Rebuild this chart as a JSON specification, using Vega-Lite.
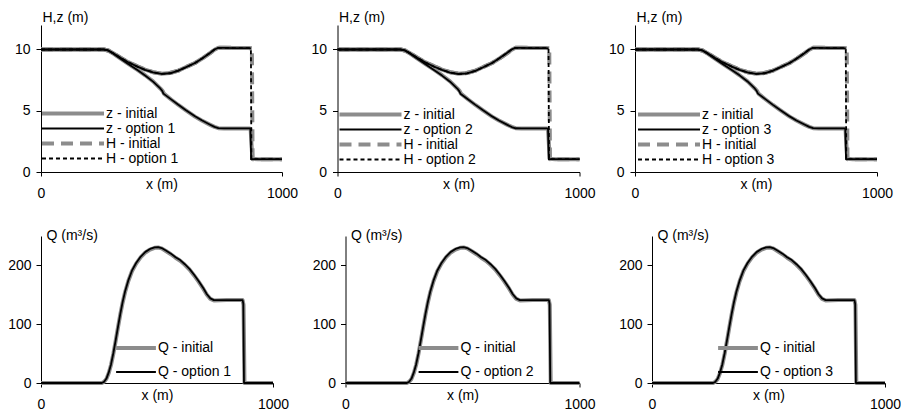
{
"$schema": "https://vega.github.io/schema/vega-lite/v6.json",
"background": "white",
"padding": {"left": 0, "top": 10, "right": 0, "bottom": 0},
"datasets": {
"z_i": [{"x":0,"v":10,"s":"z - initial"},{"x":100,"v":10,"s":"z - initial"},{"x":200,"v":10,"s":"z - initial"},{"x":262,"v":10,"s":"z - initial"},{"x":280,"v":9.9,"s":"z - initial"},{"x":300,"v":9.66,"s":"z - initial"},{"x":330,"v":9.26,"s":"z - initial"},{"x":362,"v":8.83,"s":"z - initial"},{"x":400,"v":8.33,"s":"z - initial"},{"x":432,"v":7.9,"s":"z - initial"},{"x":465,"v":7.4,"s":"z - initial"},{"x":495,"v":6.82,"s":"z - initial"},{"x":505,"v":6.6,"s":"z - initial"},{"x":510,"v":6.4,"s":"z - initial"},{"x":540,"v":5.92,"s":"z - initial"},{"x":570,"v":5.47,"s":"z - initial"},{"x":600,"v":5.05,"s":"z - initial"},{"x":639,"v":4.52,"s":"z - initial"},{"x":667,"v":4.2,"s":"z - initial"},{"x":700,"v":3.87,"s":"z - initial"},{"x":720,"v":3.68,"s":"z - initial"},{"x":736,"v":3.58,"s":"z - initial"},{"x":760,"v":3.55,"s":"z - initial"},{"x":800,"v":3.55,"s":"z - initial"},{"x":866,"v":3.55,"s":"z - initial"},{"x":870,"v":3.45,"s":"z - initial"},{"x":877,"v":1.08,"s":"z - initial"},{"x":900,"v":1.05,"s":"z - initial"},{"x":1000,"v":1.05,"s":"z - initial"}],
"H_i": [{"x":0,"v":10,"s":"H - initial"},{"x":100,"v":10,"s":"H - initial"},{"x":200,"v":10,"s":"H - initial"},{"x":260,"v":10,"s":"H - initial"},{"x":280,"v":9.92,"s":"H - initial"},{"x":300,"v":9.7,"s":"H - initial"},{"x":330,"v":9.33,"s":"H - initial"},{"x":362,"v":8.97,"s":"H - initial"},{"x":400,"v":8.62,"s":"H - initial"},{"x":432,"v":8.36,"s":"H - initial"},{"x":465,"v":8.15,"s":"H - initial"},{"x":500,"v":8.03,"s":"H - initial"},{"x":535,"v":8.08,"s":"H - initial"},{"x":570,"v":8.28,"s":"H - initial"},{"x":600,"v":8.55,"s":"H - initial"},{"x":639,"v":8.9,"s":"H - initial"},{"x":667,"v":9.24,"s":"H - initial"},{"x":700,"v":9.68,"s":"H - initial"},{"x":720,"v":9.98,"s":"H - initial"},{"x":736,"v":10.15,"s":"H - initial"},{"x":760,"v":10.15,"s":"H - initial"},{"x":800,"v":10.13,"s":"H - initial"},{"x":860,"v":10.12,"s":"H - initial"},{"x":875,"v":10.1,"s":"H - initial"},{"x":878,"v":1.05,"s":"H - initial"},{"x":900,"v":1.05,"s":"H - initial"},{"x":1000,"v":1.05,"s":"H - initial"}],
"z_o1": [{"x":0,"v":10,"s":"z - option 1"},{"x":100,"v":10,"s":"z - option 1"},{"x":200,"v":10,"s":"z - option 1"},{"x":262,"v":10,"s":"z - option 1"},{"x":280,"v":9.9,"s":"z - option 1"},{"x":300,"v":9.65,"s":"z - option 1"},{"x":330,"v":9.25,"s":"z - option 1"},{"x":362,"v":8.82,"s":"z - option 1"},{"x":400,"v":8.32,"s":"z - option 1"},{"x":432,"v":7.88,"s":"z - option 1"},{"x":465,"v":7.38,"s":"z - option 1"},{"x":495,"v":6.82,"s":"z - option 1"},{"x":503,"v":6.62,"s":"z - option 1"},{"x":508,"v":6.4,"s":"z - option 1"},{"x":540,"v":5.93,"s":"z - option 1"},{"x":570,"v":5.49,"s":"z - option 1"},{"x":600,"v":5.07,"s":"z - option 1"},{"x":639,"v":4.55,"s":"z - option 1"},{"x":667,"v":4.22,"s":"z - option 1"},{"x":700,"v":3.88,"s":"z - option 1"},{"x":720,"v":3.68,"s":"z - option 1"},{"x":736,"v":3.58,"s":"z - option 1"},{"x":760,"v":3.56,"s":"z - option 1"},{"x":800,"v":3.56,"s":"z - option 1"},{"x":866,"v":3.56,"s":"z - option 1"},{"x":869,"v":3.5,"s":"z - option 1"},{"x":872,"v":1.05,"s":"z - option 1"},{"x":900,"v":1.05,"s":"z - option 1"},{"x":1000,"v":1.05,"s":"z - option 1"}],
"H_o1": [{"x":0,"v":10,"s":"H - option 1"},{"x":100,"v":10,"s":"H - option 1"},{"x":200,"v":10,"s":"H - option 1"},{"x":260,"v":10,"s":"H - option 1"},{"x":280,"v":9.92,"s":"H - option 1"},{"x":300,"v":9.69,"s":"H - option 1"},{"x":330,"v":9.32,"s":"H - option 1"},{"x":362,"v":8.96,"s":"H - option 1"},{"x":400,"v":8.6,"s":"H - option 1"},{"x":432,"v":8.34,"s":"H - option 1"},{"x":465,"v":8.13,"s":"H - option 1"},{"x":500,"v":8.01,"s":"H - option 1"},{"x":535,"v":8.06,"s":"H - option 1"},{"x":570,"v":8.27,"s":"H - option 1"},{"x":600,"v":8.54,"s":"H - option 1"},{"x":639,"v":8.9,"s":"H - option 1"},{"x":667,"v":9.25,"s":"H - option 1"},{"x":700,"v":9.7,"s":"H - option 1"},{"x":720,"v":10.0,"s":"H - option 1"},{"x":736,"v":10.14,"s":"H - option 1"},{"x":760,"v":10.14,"s":"H - option 1"},{"x":800,"v":10.12,"s":"H - option 1"},{"x":860,"v":10.11,"s":"H - option 1"},{"x":871,"v":10.1,"s":"H - option 1"},{"x":873,"v":1.05,"s":"H - option 1"},{"x":900,"v":1.05,"s":"H - option 1"},{"x":1000,"v":1.05,"s":"H - option 1"}],
"z_o2": [{"x":0,"v":10,"s":"z - option 2"},{"x":100,"v":10,"s":"z - option 2"},{"x":200,"v":10,"s":"z - option 2"},{"x":262,"v":10,"s":"z - option 2"},{"x":280,"v":9.9,"s":"z - option 2"},{"x":300,"v":9.65,"s":"z - option 2"},{"x":330,"v":9.24,"s":"z - option 2"},{"x":362,"v":8.81,"s":"z - option 2"},{"x":400,"v":8.31,"s":"z - option 2"},{"x":432,"v":7.87,"s":"z - option 2"},{"x":465,"v":7.37,"s":"z - option 2"},{"x":495,"v":6.81,"s":"z - option 2"},{"x":503,"v":6.6,"s":"z - option 2"},{"x":508,"v":6.39,"s":"z - option 2"},{"x":540,"v":5.92,"s":"z - option 2"},{"x":570,"v":5.48,"s":"z - option 2"},{"x":600,"v":5.06,"s":"z - option 2"},{"x":639,"v":4.54,"s":"z - option 2"},{"x":667,"v":4.21,"s":"z - option 2"},{"x":700,"v":3.87,"s":"z - option 2"},{"x":720,"v":3.67,"s":"z - option 2"},{"x":736,"v":3.57,"s":"z - option 2"},{"x":760,"v":3.56,"s":"z - option 2"},{"x":800,"v":3.56,"s":"z - option 2"},{"x":866,"v":3.56,"s":"z - option 2"},{"x":870,"v":3.5,"s":"z - option 2"},{"x":873,"v":1.05,"s":"z - option 2"},{"x":900,"v":1.05,"s":"z - option 2"},{"x":1000,"v":1.05,"s":"z - option 2"}],
"H_o2": [{"x":0,"v":10,"s":"H - option 2"},{"x":100,"v":10,"s":"H - option 2"},{"x":200,"v":10,"s":"H - option 2"},{"x":260,"v":10,"s":"H - option 2"},{"x":280,"v":9.92,"s":"H - option 2"},{"x":300,"v":9.69,"s":"H - option 2"},{"x":330,"v":9.32,"s":"H - option 2"},{"x":362,"v":8.95,"s":"H - option 2"},{"x":400,"v":8.59,"s":"H - option 2"},{"x":432,"v":8.33,"s":"H - option 2"},{"x":465,"v":8.12,"s":"H - option 2"},{"x":500,"v":8.0,"s":"H - option 2"},{"x":535,"v":8.05,"s":"H - option 2"},{"x":570,"v":8.26,"s":"H - option 2"},{"x":600,"v":8.53,"s":"H - option 2"},{"x":639,"v":8.9,"s":"H - option 2"},{"x":667,"v":9.26,"s":"H - option 2"},{"x":700,"v":9.71,"s":"H - option 2"},{"x":720,"v":10.01,"s":"H - option 2"},{"x":736,"v":10.14,"s":"H - option 2"},{"x":760,"v":10.14,"s":"H - option 2"},{"x":800,"v":10.12,"s":"H - option 2"},{"x":860,"v":10.11,"s":"H - option 2"},{"x":872,"v":10.1,"s":"H - option 2"},{"x":874,"v":1.05,"s":"H - option 2"},{"x":900,"v":1.05,"s":"H - option 2"},{"x":1000,"v":1.05,"s":"H - option 2"}],
"z_o3": [{"x":0,"v":10,"s":"z - option 3"},{"x":100,"v":10,"s":"z - option 3"},{"x":200,"v":10,"s":"z - option 3"},{"x":262,"v":10,"s":"z - option 3"},{"x":280,"v":9.9,"s":"z - option 3"},{"x":300,"v":9.66,"s":"z - option 3"},{"x":330,"v":9.25,"s":"z - option 3"},{"x":362,"v":8.82,"s":"z - option 3"},{"x":400,"v":8.32,"s":"z - option 3"},{"x":432,"v":7.89,"s":"z - option 3"},{"x":465,"v":7.39,"s":"z - option 3"},{"x":495,"v":6.82,"s":"z - option 3"},{"x":503,"v":6.61,"s":"z - option 3"},{"x":508,"v":6.4,"s":"z - option 3"},{"x":540,"v":5.93,"s":"z - option 3"},{"x":570,"v":5.48,"s":"z - option 3"},{"x":600,"v":5.06,"s":"z - option 3"},{"x":639,"v":4.54,"s":"z - option 3"},{"x":667,"v":4.21,"s":"z - option 3"},{"x":700,"v":3.88,"s":"z - option 3"},{"x":720,"v":3.68,"s":"z - option 3"},{"x":736,"v":3.58,"s":"z - option 3"},{"x":760,"v":3.56,"s":"z - option 3"},{"x":800,"v":3.56,"s":"z - option 3"},{"x":866,"v":3.56,"s":"z - option 3"},{"x":869,"v":3.5,"s":"z - option 3"},{"x":872,"v":1.05,"s":"z - option 3"},{"x":900,"v":1.05,"s":"z - option 3"},{"x":1000,"v":1.05,"s":"z - option 3"}],
"H_o3": [{"x":0,"v":10,"s":"H - option 3"},{"x":100,"v":10,"s":"H - option 3"},{"x":200,"v":10,"s":"H - option 3"},{"x":260,"v":10,"s":"H - option 3"},{"x":280,"v":9.92,"s":"H - option 3"},{"x":300,"v":9.69,"s":"H - option 3"},{"x":330,"v":9.32,"s":"H - option 3"},{"x":362,"v":8.96,"s":"H - option 3"},{"x":400,"v":8.6,"s":"H - option 3"},{"x":432,"v":8.34,"s":"H - option 3"},{"x":465,"v":8.13,"s":"H - option 3"},{"x":500,"v":8.01,"s":"H - option 3"},{"x":535,"v":8.06,"s":"H - option 3"},{"x":570,"v":8.27,"s":"H - option 3"},{"x":600,"v":8.54,"s":"H - option 3"},{"x":639,"v":8.9,"s":"H - option 3"},{"x":667,"v":9.25,"s":"H - option 3"},{"x":700,"v":9.7,"s":"H - option 3"},{"x":720,"v":10.0,"s":"H - option 3"},{"x":736,"v":10.14,"s":"H - option 3"},{"x":760,"v":10.14,"s":"H - option 3"},{"x":800,"v":10.12,"s":"H - option 3"},{"x":860,"v":10.11,"s":"H - option 3"},{"x":871,"v":10.1,"s":"H - option 3"},{"x":873,"v":1.05,"s":"H - option 3"},{"x":900,"v":1.05,"s":"H - option 3"},{"x":1000,"v":1.05,"s":"H - option 3"}],
"Q_i": [{"x":0,"v":0,"s":"Q - initial"},{"x":100,"v":0,"s":"Q - initial"},{"x":200,"v":0,"s":"Q - initial"},{"x":262,"v":0,"s":"Q - initial"},{"x":272,"v":2,"s":"Q - initial"},{"x":282,"v":7,"s":"Q - initial"},{"x":292,"v":17,"s":"Q - initial"},{"x":302,"v":31,"s":"Q - initial"},{"x":312,"v":50,"s":"Q - initial"},{"x":322,"v":72,"s":"Q - initial"},{"x":332,"v":95,"s":"Q - initial"},{"x":342,"v":117,"s":"Q - initial"},{"x":352,"v":137,"s":"Q - initial"},{"x":362,"v":154,"s":"Q - initial"},{"x":376,"v":173,"s":"Q - initial"},{"x":392,"v":190,"s":"Q - initial"},{"x":410,"v":203,"s":"Q - initial"},{"x":430,"v":214,"s":"Q - initial"},{"x":450,"v":222,"s":"Q - initial"},{"x":470,"v":227,"s":"Q - initial"},{"x":490,"v":230,"s":"Q - initial"},{"x":505,"v":230.5,"s":"Q - initial"},{"x":520,"v":229,"s":"Q - initial"},{"x":540,"v":224,"s":"Q - initial"},{"x":560,"v":219,"s":"Q - initial"},{"x":580,"v":213,"s":"Q - initial"},{"x":600,"v":208,"s":"Q - initial"},{"x":620,"v":201,"s":"Q - initial"},{"x":640,"v":193,"s":"Q - initial"},{"x":660,"v":183,"s":"Q - initial"},{"x":680,"v":172,"s":"Q - initial"},{"x":700,"v":160,"s":"Q - initial"},{"x":715,"v":150,"s":"Q - initial"},{"x":730,"v":143,"s":"Q - initial"},{"x":745,"v":140.5,"s":"Q - initial"},{"x":800,"v":141,"s":"Q - initial"},{"x":869,"v":141,"s":"Q - initial"},{"x":873,"v":133,"s":"Q - initial"},{"x":877,"v":0,"s":"Q - initial"},{"x":900,"v":0,"s":"Q - initial"},{"x":1000,"v":0,"s":"Q - initial"}],
"Q_o1": [{"x":0,"v":0,"s":"Q - option 1"},{"x":100,"v":0,"s":"Q - option 1"},{"x":200,"v":0,"s":"Q - option 1"},{"x":262,"v":0,"s":"Q - option 1"},{"x":272,"v":2,"s":"Q - option 1"},{"x":282,"v":7.5,"s":"Q - option 1"},{"x":292,"v":18,"s":"Q - option 1"},{"x":302,"v":32,"s":"Q - option 1"},{"x":312,"v":51,"s":"Q - option 1"},{"x":322,"v":73,"s":"Q - option 1"},{"x":332,"v":96,"s":"Q - option 1"},{"x":342,"v":118,"s":"Q - option 1"},{"x":352,"v":138,"s":"Q - option 1"},{"x":362,"v":155,"s":"Q - option 1"},{"x":376,"v":174,"s":"Q - option 1"},{"x":392,"v":191,"s":"Q - option 1"},{"x":410,"v":204,"s":"Q - option 1"},{"x":430,"v":215,"s":"Q - option 1"},{"x":450,"v":223,"s":"Q - option 1"},{"x":470,"v":228,"s":"Q - option 1"},{"x":490,"v":230.5,"s":"Q - option 1"},{"x":505,"v":231,"s":"Q - option 1"},{"x":520,"v":229.5,"s":"Q - option 1"},{"x":540,"v":225,"s":"Q - option 1"},{"x":560,"v":220,"s":"Q - option 1"},{"x":580,"v":214,"s":"Q - option 1"},{"x":600,"v":209,"s":"Q - option 1"},{"x":620,"v":202,"s":"Q - option 1"},{"x":640,"v":194,"s":"Q - option 1"},{"x":660,"v":184,"s":"Q - option 1"},{"x":680,"v":173,"s":"Q - option 1"},{"x":700,"v":161,"s":"Q - option 1"},{"x":715,"v":151,"s":"Q - option 1"},{"x":730,"v":144,"s":"Q - option 1"},{"x":745,"v":141,"s":"Q - option 1"},{"x":800,"v":141,"s":"Q - option 1"},{"x":869,"v":141,"s":"Q - option 1"},{"x":872,"v":135,"s":"Q - option 1"},{"x":875,"v":0,"s":"Q - option 1"},{"x":900,"v":0,"s":"Q - option 1"},{"x":1000,"v":0,"s":"Q - option 1"}],
"Q_o2": [{"x":0,"v":0,"s":"Q - option 2"},{"x":100,"v":0,"s":"Q - option 2"},{"x":200,"v":0,"s":"Q - option 2"},{"x":262,"v":0,"s":"Q - option 2"},{"x":272,"v":2,"s":"Q - option 2"},{"x":282,"v":7.5,"s":"Q - option 2"},{"x":292,"v":18,"s":"Q - option 2"},{"x":302,"v":32,"s":"Q - option 2"},{"x":312,"v":51,"s":"Q - option 2"},{"x":322,"v":73,"s":"Q - option 2"},{"x":332,"v":96,"s":"Q - option 2"},{"x":342,"v":118,"s":"Q - option 2"},{"x":352,"v":138,"s":"Q - option 2"},{"x":362,"v":155,"s":"Q - option 2"},{"x":376,"v":174,"s":"Q - option 2"},{"x":392,"v":191,"s":"Q - option 2"},{"x":410,"v":204,"s":"Q - option 2"},{"x":430,"v":215,"s":"Q - option 2"},{"x":450,"v":223,"s":"Q - option 2"},{"x":470,"v":228,"s":"Q - option 2"},{"x":490,"v":230.5,"s":"Q - option 2"},{"x":505,"v":231,"s":"Q - option 2"},{"x":520,"v":229.5,"s":"Q - option 2"},{"x":540,"v":225,"s":"Q - option 2"},{"x":560,"v":220,"s":"Q - option 2"},{"x":580,"v":214,"s":"Q - option 2"},{"x":600,"v":209,"s":"Q - option 2"},{"x":620,"v":202,"s":"Q - option 2"},{"x":640,"v":194,"s":"Q - option 2"},{"x":660,"v":184,"s":"Q - option 2"},{"x":680,"v":173,"s":"Q - option 2"},{"x":700,"v":161,"s":"Q - option 2"},{"x":715,"v":151,"s":"Q - option 2"},{"x":730,"v":144,"s":"Q - option 2"},{"x":745,"v":141,"s":"Q - option 2"},{"x":800,"v":141,"s":"Q - option 2"},{"x":869,"v":141,"s":"Q - option 2"},{"x":872,"v":135,"s":"Q - option 2"},{"x":875,"v":0,"s":"Q - option 2"},{"x":900,"v":0,"s":"Q - option 2"},{"x":1000,"v":0,"s":"Q - option 2"}],
"Q_o3": [{"x":0,"v":0,"s":"Q - option 3"},{"x":100,"v":0,"s":"Q - option 3"},{"x":200,"v":0,"s":"Q - option 3"},{"x":262,"v":0,"s":"Q - option 3"},{"x":272,"v":2,"s":"Q - option 3"},{"x":282,"v":7.5,"s":"Q - option 3"},{"x":292,"v":18,"s":"Q - option 3"},{"x":302,"v":32,"s":"Q - option 3"},{"x":312,"v":51,"s":"Q - option 3"},{"x":322,"v":73,"s":"Q - option 3"},{"x":332,"v":96,"s":"Q - option 3"},{"x":342,"v":118,"s":"Q - option 3"},{"x":352,"v":138,"s":"Q - option 3"},{"x":362,"v":155,"s":"Q - option 3"},{"x":376,"v":174,"s":"Q - option 3"},{"x":392,"v":191,"s":"Q - option 3"},{"x":410,"v":204,"s":"Q - option 3"},{"x":430,"v":215,"s":"Q - option 3"},{"x":450,"v":223,"s":"Q - option 3"},{"x":470,"v":228,"s":"Q - option 3"},{"x":490,"v":230.5,"s":"Q - option 3"},{"x":505,"v":231,"s":"Q - option 3"},{"x":520,"v":229.5,"s":"Q - option 3"},{"x":540,"v":225,"s":"Q - option 3"},{"x":560,"v":220,"s":"Q - option 3"},{"x":580,"v":214,"s":"Q - option 3"},{"x":600,"v":209,"s":"Q - option 3"},{"x":620,"v":202,"s":"Q - option 3"},{"x":640,"v":194,"s":"Q - option 3"},{"x":660,"v":184,"s":"Q - option 3"},{"x":680,"v":173,"s":"Q - option 3"},{"x":700,"v":161,"s":"Q - option 3"},{"x":715,"v":151,"s":"Q - option 3"},{"x":730,"v":144,"s":"Q - option 3"},{"x":745,"v":141,"s":"Q - option 3"},{"x":800,"v":141,"s":"Q - option 3"},{"x":869,"v":141,"s":"Q - option 3"},{"x":872,"v":135,"s":"Q - option 3"},{"x":875,"v":0,"s":"Q - option 3"},{"x":900,"v":0,"s":"Q - option 3"},{"x":1000,"v":0,"s":"Q - option 3"}]
},
"vconcat": [
{"hconcat": [
{"width": 241, "height": 147,
 "encoding": {
  "x": {"field":"x","type":"quantitative","scale":{"domain":[0,1000],"nice":false},"axis":{"values":[0,1000],"format":"d","tickSize":4,"labelPadding":10,"labelFlush":false,"title":"x  (m)","titleY":12,"titleBaseline":"middle"}},
  "y": {"field":"v","type":"quantitative","scale":{"domain":[0,12],"nice":false},"axis":{"values":[0,5,10],"tickSize":5,"labelPadding":6,"minExtent":27,"maxExtent":27,"titlePadding":0,"title":"H,z  (m)","titleAngle":0,"titleX":1,"titleY":-8,"titleAlign":"left","titleBaseline":"middle"}},
  "color": {"field":"s","type":"nominal","scale":{"domain":["z - initial","z - option 1","H - initial","H - option 1"],"range":["#8c8c8c","#000000","#8c8c8c","#000000"]},"legend":{"orient":"none","legendX":25,"legendY":81.5,"title":null,"symbolType":"M-12,0H12","symbolSize":26.7,"labelOffset":26,"rowPadding":0,"padding":0}},
  "strokeWidth": {"field":"s","type":"nominal","scale":{"type":"ordinal","domain":["z - initial","z - option 1","H - initial","H - option 1"],"range":[4,1.8,4,1.8]},"legend":{"orient":"none","legendX":25,"legendY":81.5,"title":null,"symbolType":"M-12,0H12","symbolSize":26.7,"labelOffset":26,"rowPadding":0,"padding":0}}
 },
 "layer": [
  {"data":{"name":"z_i"},"mark":{"type":"line","strokeJoin":"round"}},
  {"data":{"name":"H_i"},"transform":[{"filter":"datum.x <= 875"}],"mark":{"type":"line","strokeJoin":"round"}},
  {"data":{"name":"H_i"},"mark":{"type":"line","strokeJoin":"round"},"encoding":{"strokeDash":{"field":"s","type":"nominal","scale":{"domain":["z - initial","z - option 1","H - initial","H - option 1"],"range":[[1,0],[1,0],[12,7],[4,3]]},"legend":{"orient":"none","legendX":25,"legendY":81.5,"title":null,"symbolType":"M-12,0H12","symbolSize":26.7,"labelOffset":26,"rowPadding":0,"padding":0}}}},
  {"data":{"name":"z_o1"},"mark":{"type":"line","strokeJoin":"round"}},
  {"data":{"name":"H_o1"},"transform":[{"filter":"datum.x <= 871"}],"mark":{"type":"line","strokeJoin":"round"}},
  {"data":{"name":"H_o1"},"mark":{"type":"line","strokeJoin":"round"},"encoding":{"strokeDash":{"field":"s","type":"nominal","scale":{"domain":["z - initial","z - option 1","H - initial","H - option 1"],"range":[[1,0],[1,0],[12,7],[4,3]]},"legend":{"orient":"none","legendX":25,"legendY":81.5,"title":null,"symbolType":"M-12,0H12","symbolSize":26.7,"labelOffset":26,"rowPadding":0,"padding":0}}}}
 ]
},
{"width": 242, "height": 147,
 "encoding": {
  "x": {"field":"x","type":"quantitative","scale":{"domain":[0,1000],"nice":false},"axis":{"values":[0,1000],"format":"d","tickSize":4,"labelPadding":10,"labelFlush":false,"title":"x  (m)","titleY":12,"titleBaseline":"middle"}},
  "y": {"field":"v","type":"quantitative","scale":{"domain":[0,12],"nice":false},"axis":{"values":[0,5,10],"tickSize":5,"labelPadding":6,"minExtent":27,"maxExtent":27,"titlePadding":0,"title":"H,z  (m)","titleAngle":0,"titleX":1,"titleY":-8,"titleAlign":"left","titleBaseline":"middle"}},
  "color": {"field":"s","type":"nominal","scale":{"domain":["z - initial","z - option 2","H - initial","H - option 2"],"range":["#8c8c8c","#000000","#8c8c8c","#000000"]},"legend":{"orient":"none","legendX":26,"legendY":82.5,"title":null,"symbolType":"M-12,0H12","symbolSize":26.7,"labelOffset":26,"rowPadding":0,"padding":0}},
  "strokeWidth": {"field":"s","type":"nominal","scale":{"type":"ordinal","domain":["z - initial","z - option 2","H - initial","H - option 2"],"range":[4,1.8,4,1.8]},"legend":{"orient":"none","legendX":26,"legendY":82.5,"title":null,"symbolType":"M-12,0H12","symbolSize":26.7,"labelOffset":26,"rowPadding":0,"padding":0}}
 },
 "layer": [
  {"data":{"name":"z_i"},"mark":{"type":"line","strokeJoin":"round"}},
  {"data":{"name":"H_i"},"transform":[{"filter":"datum.x <= 875"}],"mark":{"type":"line","strokeJoin":"round"}},
  {"data":{"name":"H_i"},"mark":{"type":"line","strokeJoin":"round"},"encoding":{"strokeDash":{"field":"s","type":"nominal","scale":{"domain":["z - initial","z - option 2","H - initial","H - option 2"],"range":[[1,0],[1,0],[12,7],[4,3]]},"legend":{"orient":"none","legendX":26,"legendY":82.5,"title":null,"symbolType":"M-12,0H12","symbolSize":26.7,"labelOffset":26,"rowPadding":0,"padding":0}}}},
  {"data":{"name":"z_o2"},"mark":{"type":"line","strokeJoin":"round"}},
  {"data":{"name":"H_o2"},"transform":[{"filter":"datum.x <= 872"}],"mark":{"type":"line","strokeJoin":"round"}},
  {"data":{"name":"H_o2"},"mark":{"type":"line","strokeJoin":"round"},"encoding":{"strokeDash":{"field":"s","type":"nominal","scale":{"domain":["z - initial","z - option 2","H - initial","H - option 2"],"range":[[1,0],[1,0],[12,7],[4,3]]},"legend":{"orient":"none","legendX":26,"legendY":82.5,"title":null,"symbolType":"M-12,0H12","symbolSize":26.7,"labelOffset":26,"rowPadding":0,"padding":0}}}}
 ]
},
{"width": 242, "height": 147,
 "encoding": {
  "x": {"field":"x","type":"quantitative","scale":{"domain":[0,1000],"nice":false},"axis":{"values":[0,1000],"format":"d","tickSize":4,"labelPadding":10,"labelFlush":false,"title":"x  (m)","titleY":12,"titleBaseline":"middle"}},
  "y": {"field":"v","type":"quantitative","scale":{"domain":[0,12],"nice":false},"axis":{"values":[0,5,10],"tickSize":5,"labelPadding":6,"minExtent":27,"maxExtent":27,"titlePadding":0,"title":"H,z  (m)","titleAngle":0,"titleX":1,"titleY":-8,"titleAlign":"left","titleBaseline":"middle"}},
  "color": {"field":"s","type":"nominal","scale":{"domain":["z - initial","z - option 3","H - initial","H - option 3"],"range":["#8c8c8c","#000000","#8c8c8c","#000000"]},"legend":{"orient":"none","legendX":27,"legendY":82.5,"title":null,"symbolType":"M-12,0H12","symbolSize":26.7,"labelOffset":26,"rowPadding":0,"padding":0}},
  "strokeWidth": {"field":"s","type":"nominal","scale":{"type":"ordinal","domain":["z - initial","z - option 3","H - initial","H - option 3"],"range":[4,1.8,4,1.8]},"legend":{"orient":"none","legendX":27,"legendY":82.5,"title":null,"symbolType":"M-12,0H12","symbolSize":26.7,"labelOffset":26,"rowPadding":0,"padding":0}}
 },
 "layer": [
  {"data":{"name":"z_i"},"mark":{"type":"line","strokeJoin":"round"}},
  {"data":{"name":"H_i"},"transform":[{"filter":"datum.x <= 875"}],"mark":{"type":"line","strokeJoin":"round"}},
  {"data":{"name":"H_i"},"mark":{"type":"line","strokeJoin":"round"},"encoding":{"strokeDash":{"field":"s","type":"nominal","scale":{"domain":["z - initial","z - option 3","H - initial","H - option 3"],"range":[[1,0],[1,0],[12,7],[4,3]]},"legend":{"orient":"none","legendX":27,"legendY":82.5,"title":null,"symbolType":"M-12,0H12","symbolSize":26.7,"labelOffset":26,"rowPadding":0,"padding":0}}}},
  {"data":{"name":"z_o3"},"mark":{"type":"line","strokeJoin":"round"}},
  {"data":{"name":"H_o3"},"transform":[{"filter":"datum.x <= 871"}],"mark":{"type":"line","strokeJoin":"round"}},
  {"data":{"name":"H_o3"},"mark":{"type":"line","strokeJoin":"round"},"encoding":{"strokeDash":{"field":"s","type":"nominal","scale":{"domain":["z - initial","z - option 3","H - initial","H - option 3"],"range":[[1,0],[1,0],[12,7],[4,3]]},"legend":{"orient":"none","legendX":27,"legendY":82.5,"title":null,"symbolType":"M-12,0H12","symbolSize":26.7,"labelOffset":26,"rowPadding":0,"padding":0}}}}
 ]
}
], "spacing": 12.5,
"resolve": {"scale":{"color":"independent","strokeWidth":"independent","strokeDash":"independent"},"legend":{"color":"independent","strokeWidth":"independent","strokeDash":"independent"}}},
{"hconcat": [
{"width": 232, "height": 147,
 "encoding": {
  "x": {"field":"x","type":"quantitative","scale":{"domain":[0,1000],"nice":false},"axis":{"values":[0,1000],"format":"d","tickSize":4,"labelPadding":10,"labelFlush":false,"title":"x  (m)","titleY":12,"titleBaseline":"middle"}},
  "y": {"field":"v","type":"quantitative","scale":{"domain":[0,250],"nice":false},"axis":{"values":[0,100,200],"tickSize":5,"labelPadding":5,"minExtent":40.5,"maxExtent":40.5,"titlePadding":0,"title":"Q  (m³/s)","titleAngle":0,"titleX":5,"titleY":-1,"titleAlign":"left","titleBaseline":"middle"}},
  "color": {"field":"s","type":"nominal","scale":{"domain":["Q - initial","Q - option 1"],"range":["#8c8c8c","#000000"]},"legend":{"orient":"none","legendX":88,"legendY":105,"title":null,"symbolType":"M-6,0H6","symbolSize":44,"labelOffset":15,"rowPadding":9,"padding":0}},
  "strokeWidth": {"field":"s","type":"nominal","scale":{"type":"ordinal","domain":["Q - initial","Q - option 1"],"range":[4,1.8]},"legend":{"orient":"none","legendX":88,"legendY":105,"title":null,"symbolType":"M-6,0H6","symbolSize":44,"labelOffset":15,"rowPadding":9,"padding":0}}
 },
 "layer": [
  {"data":{"name":"Q_i"},"mark":{"type":"line","strokeJoin":"round"}},
  {"data":{"name":"Q_o1"},"mark":{"type":"line","strokeJoin":"round"}}
 ]
},
{"width": 234, "height": 147,
 "encoding": {
  "x": {"field":"x","type":"quantitative","scale":{"domain":[0,1000],"nice":false},"axis":{"values":[0,1000],"format":"d","tickSize":4,"labelPadding":10,"labelFlush":false,"title":"x  (m)","titleY":12,"titleBaseline":"middle"}},
  "y": {"field":"v","type":"quantitative","scale":{"domain":[0,250],"nice":false},"axis":{"values":[0,100,200],"tickSize":5,"labelPadding":5,"minExtent":40.5,"maxExtent":40.5,"titlePadding":0,"title":"Q  (m³/s)","titleAngle":0,"titleX":5,"titleY":-1,"titleAlign":"left","titleBaseline":"middle"}},
  "color": {"field":"s","type":"nominal","scale":{"domain":["Q - initial","Q - option 2"],"range":["#8c8c8c","#000000"]},"legend":{"orient":"none","legendX":86,"legendY":105,"title":null,"symbolType":"M-6,0H6","symbolSize":44,"labelOffset":15,"rowPadding":9,"padding":0}},
  "strokeWidth": {"field":"s","type":"nominal","scale":{"type":"ordinal","domain":["Q - initial","Q - option 2"],"range":[4,1.8]},"legend":{"orient":"none","legendX":86,"legendY":105,"title":null,"symbolType":"M-6,0H6","symbolSize":44,"labelOffset":15,"rowPadding":9,"padding":0}}
 },
 "layer": [
  {"data":{"name":"Q_i"},"mark":{"type":"line","strokeJoin":"round"}},
  {"data":{"name":"Q_o2"},"mark":{"type":"line","strokeJoin":"round"}}
 ]
},
{"width": 233, "height": 147,
 "encoding": {
  "x": {"field":"x","type":"quantitative","scale":{"domain":[0,1000],"nice":false},"axis":{"values":[0,1000],"format":"d","tickSize":4,"labelPadding":10,"labelFlush":false,"title":"x  (m)","titleY":12,"titleBaseline":"middle"}},
  "y": {"field":"v","type":"quantitative","scale":{"domain":[0,250],"nice":false},"axis":{"values":[0,100,200],"tickSize":5,"labelPadding":5,"minExtent":40.5,"maxExtent":40.5,"titlePadding":0,"title":"Q  (m³/s)","titleAngle":0,"titleX":5,"titleY":-1,"titleAlign":"left","titleBaseline":"middle"}},
  "color": {"field":"s","type":"nominal","scale":{"domain":["Q - initial","Q - option 3"],"range":["#8c8c8c","#000000"]},"legend":{"orient":"none","legendX":79,"legendY":105,"title":null,"symbolType":"M-6,0H6","symbolSize":44,"labelOffset":15,"rowPadding":9,"padding":0}},
  "strokeWidth": {"field":"s","type":"nominal","scale":{"type":"ordinal","domain":["Q - initial","Q - option 3"],"range":[4,1.8]},"legend":{"orient":"none","legendX":79,"legendY":105,"title":null,"symbolType":"M-6,0H6","symbolSize":44,"labelOffset":15,"rowPadding":9,"padding":0}}
 },
 "layer": [
  {"data":{"name":"Q_i"},"mark":{"type":"line","strokeJoin":"round"}},
  {"data":{"name":"Q_o3"},"mark":{"type":"line","strokeJoin":"round"}}
 ]
}
], "spacing": 15.5,
"resolve": {"scale":{"color":"independent","strokeWidth":"independent"},"legend":{"color":"independent","strokeWidth":"independent"}}}
],
"spacing": 28,
"resolve": {"scale":{"color":"independent","strokeWidth":"independent","strokeDash":"independent"},"legend":{"color":"independent","strokeWidth":"independent","strokeDash":"independent"}},
"config": {
 "font": "Liberation Sans",
 "view": {"stroke": null},
 "axis": {"grid": false, "domainColor": "#000000", "tickColor": "#000000", "labelColor": "#000000", "titleColor": "#000000", "labelFontSize": 14, "titleFontSize": 14, "titleFontWeight": "normal", "domainWidth": 1, "tickWidth": 1},
 "legend": {"labelFontSize": 14, "labelColor": "#000000", "labelLimit": 300}
}
}
